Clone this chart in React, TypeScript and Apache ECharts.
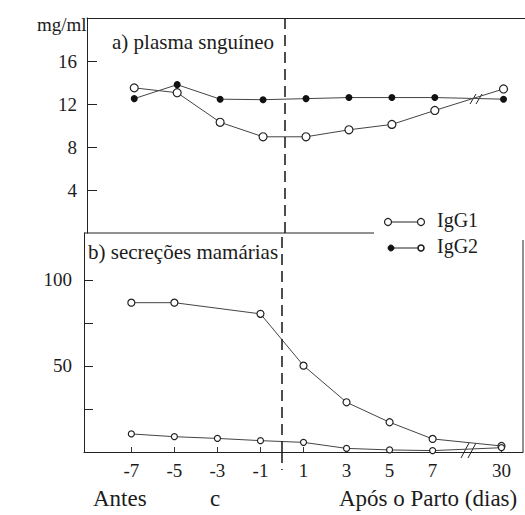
import React, { useEffect, useRef } from "react";
import * as echarts from "echarts";

const days = [-7, -5, -3, -1, 1, 3, 5, 7, 30];
const dayLabels = ["-7", "-5", "-3", "-1", "1", "3", "5", "7", "30"];
const plasmaIgG1 = [13.5, 13.05, 10.3, 8.95, 8.95, 9.6, 10.1, 11.4, 13.4];
const plasmaIgG2 = [12.5, 13.8, 12.45, 12.4, 12.5, 12.6, 12.6, 12.6, 12.45];
const mamIgG1: (number | null)[] = [86.8, 86.8, null, 80.3, 50.2, 28.9, 17.3, 7.6, 3.5];
const mamIgG2 = [10.5, 8.9, 7.9, 6.6, 5.6, 2.1, 1.2, 0.8, 2.5];
const plasmaTicks = [4, 8, 12, 16];
const mamTicks = [25, 50, 75, 100];
const mamLabels = [50, 100];

// broken x axis: days up to 7 are linear, day 30 is drawn right after the break
const BREAK_POS = 10.2;
const pos = (d: number) => (d > 7 ? BREAK_POS : d);
const tickPositions = days.map(pos);

const FONT = "'Liberation Serif', 'Times New Roman', serif";
const INK = "#1c1c1c";

export default function App() {
  const ref = useRef<HTMLDivElement>(null);
  useEffect(() => {
    document.body.style.margin = "0";
    if (!ref.current) return;
    const chart = echarts.init(ref.current, undefined, { renderer: "svg" });
    const openItem = { color: "#fff", borderColor: "#222", borderWidth: 1.2 };
    const line = { color: "#444", width: 1 };
    const vline = () => ({
      silent: true,
      symbol: "none",
      label: { show: false },
      lineStyle: { color: "#222", type: [11, 6], width: 1.6 },
      data: [{ xAxis: 0 }],
    });
    const t = (text: string, x: number, y: number, size: number) => ({
      type: "text",
      x,
      y,
      style: { text, fontFamily: FONT, fontSize: size, fill: INK },
    });
    const seg = (x1: number, y1: number, x2: number, y2: number, w = 1) => ({
      type: "line",
      shape: { x1, y1, x2, y2 },
      style: { stroke: "#222", lineWidth: w },
    });
    const axisLine = { show: true, onZero: false, lineStyle: { color: "#222", width: 1 } };
    chart.setOption({
      animation: false,
      grid: [
        { left: 87, top: 18, width: 443, height: 215 },
        { left: 84, top: 233, width: 439, height: 219 },
      ],
      xAxis: [
        {
          gridIndex: 0,
          type: "value",
          min: -9.2,
          max: 11.2,
          position: "top",
          axisLine,
          axisTick: { show: false },
          axisLabel: { show: false },
          splitLine: { show: false },
        },
        {
          gridIndex: 1,
          type: "value",
          min: -9.2,
          max: 11.2,
          position: "bottom",
          axisLine,
          axisTick: { show: true, inside: true, length: 5, customValues: tickPositions, lineStyle: { color: "#333" } },
          axisLabel: {
            customValues: tickPositions,
            formatter: (v: number) => {
              const i = tickPositions.findIndex((p) => Math.abs(p - v) < 1e-6);
              return i >= 0 ? dayLabels[i] : "";
            },
            fontFamily: FONT,
            fontSize: 19,
            color: INK,
            margin: 9,
          },
          splitLine: { show: false },
        },
      ],
      yAxis: [
        {
          gridIndex: 0,
          type: "value",
          min: 0,
          max: 20,
          position: "left",
          axisLine,
          axisTick: { show: true, inside: true, length: 10, customValues: plasmaTicks, lineStyle: { color: "#222" } },
          axisLabel: { customValues: plasmaTicks, fontFamily: FONT, fontSize: 19, color: INK, margin: 10 },
          splitLine: { show: false },
        },
        {
          gridIndex: 1,
          type: "value",
          min: 0,
          max: 127.3,
          position: "left",
          axisLine,
          axisTick: { show: true, inside: true, length: 9, customValues: mamTicks, lineStyle: { color: "#222" } },
          axisLabel: { customValues: mamLabels, fontFamily: FONT, fontSize: 19, color: INK, margin: 12 },
          splitLine: { show: false },
        },
      ],
      series: [
        {
          name: "IgG1",
          type: "line",
          xAxisIndex: 0,
          yAxisIndex: 0,
          data: days.map((d, i) => [pos(d), plasmaIgG1[i]]),
          symbol: "circle",
          symbolSize: 8,
          itemStyle: openItem,
          lineStyle: line,
          z: 3,
          markLine: vline(),
        },
        {
          name: "IgG2",
          type: "line",
          xAxisIndex: 0,
          yAxisIndex: 0,
          data: days.map((d, i) => [pos(d), plasmaIgG2[i]]),
          symbol: "circle",
          symbolSize: 7,
          itemStyle: { color: "#111" },
          lineStyle: line,
          z: 3,
        },
        {
          name: "IgG1 mam",
          type: "line",
          xAxisIndex: 1,
          yAxisIndex: 1,
          connectNulls: true,
          data: days.map((d, i) => [pos(d), mamIgG1[i]]),
          symbol: "circle",
          symbolSize: 7,
          itemStyle: openItem,
          lineStyle: line,
          z: 3,
          markLine: vline(),
        },
        {
          name: "IgG2 mam",
          type: "line",
          xAxisIndex: 1,
          yAxisIndex: 1,
          data: days.map((d, i) => [pos(d), mamIgG2[i]]),
          symbol: "circle",
          symbolSize: 6,
          itemStyle: openItem,
          lineStyle: line,
          z: 3,
        },
      ],
      graphic: [
        t("mg/ml", 37, 15, 19),
        t("a) plasma snguíneo", 112, 31, 21),
        t("b) secreções mamárias", 88, 241, 21),
        t("Antes", 93, 487, 23),
        t("c", 210, 487, 23),
        t("Após o Parto (dias)", 339, 487, 23),
        // panel divider and right frame
        seg(84, 233, 374, 233),
        seg(523, 240, 523, 452),
        // dashed line extension below the axis
        { type: "line", shape: { x1: 282, y1: 452, x2: 282, y2: 470 }, style: { stroke: "#222", lineWidth: 1.6, lineDash: [11, 6] } },
        // axis break marks
        seg(470, 104, 476, 94),
        seg(476, 104, 482, 94),
        seg(461, 458, 469, 443),
        seg(468, 458, 476, 443),
        // legend
        seg(388, 222, 420, 222),
        { type: "circle", shape: { cx: 388, cy: 222, r: 3.5 }, style: { fill: "#fff", stroke: "#222", lineWidth: 1.2 } },
        { type: "circle", shape: { cx: 421, cy: 222, r: 3.5 }, style: { fill: "#fff", stroke: "#222", lineWidth: 1.2 } },
        t("IgG1", 437, 210, 20),
        seg(391, 248, 420, 248),
        { type: "circle", shape: { cx: 391, cy: 248, r: 3 }, style: { fill: "#111", stroke: "#111" } },
        { type: "circle", shape: { cx: 421, cy: 248, r: 3 }, style: { fill: "#fff", stroke: "#111", lineWidth: 1.5 } },
        t("IgG2", 437, 236, 20),
      ],
    });
    return () => chart.dispose();
  }, []);
  return <div ref={ref} style={{ width: 525, height: 515 }} />;
}
